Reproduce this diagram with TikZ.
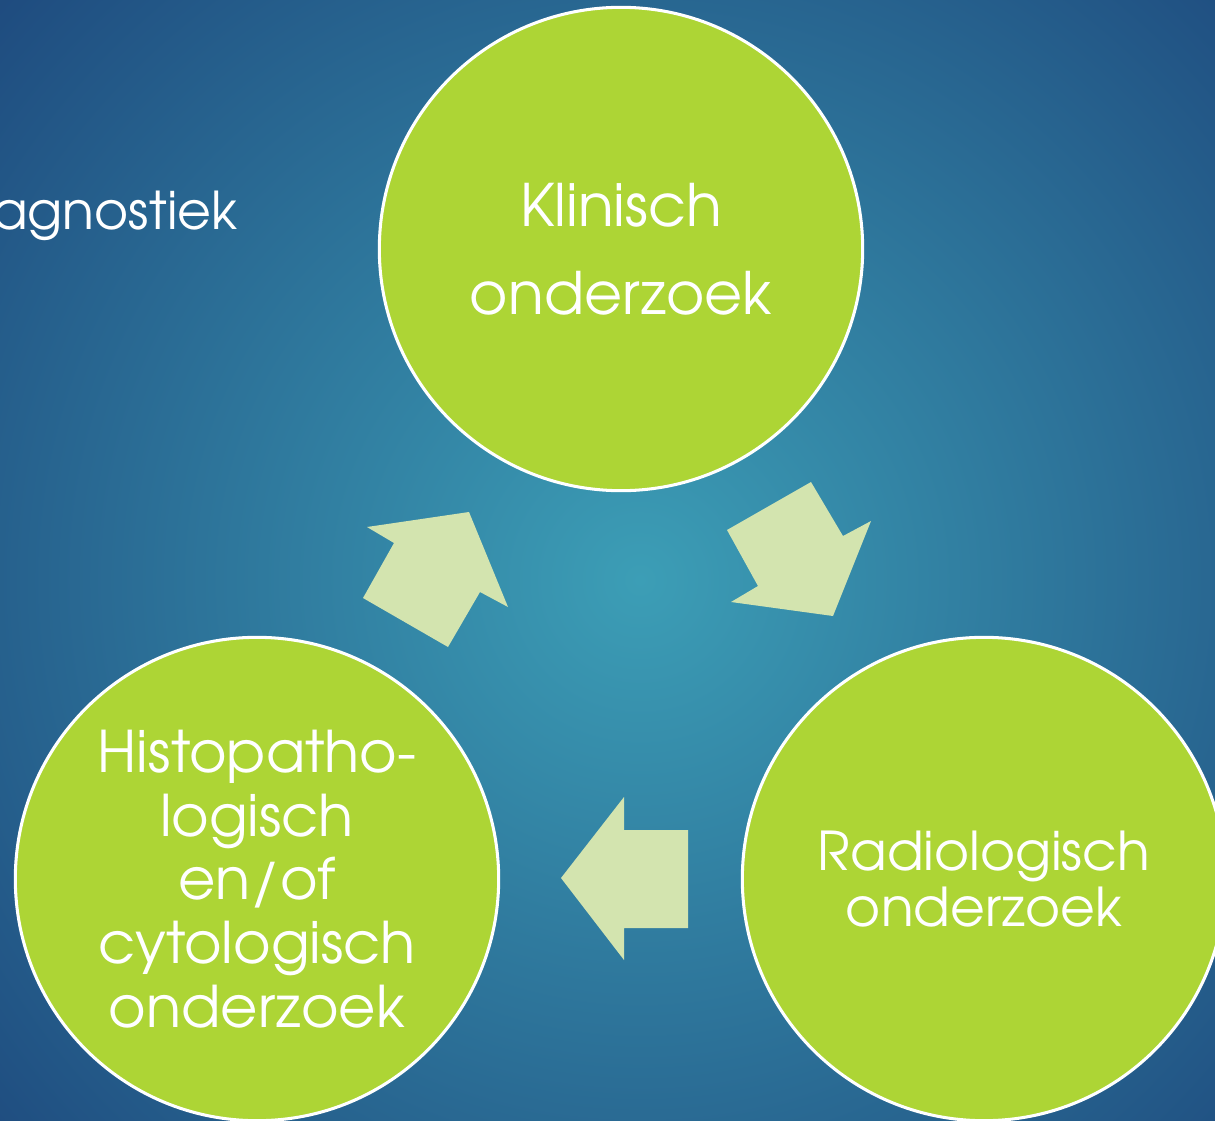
\documentclass[tikz,border=0pt]{standalone}
\usepackage{fontspec}
\setmainfont{TeX Gyre Adventor}
\definecolor{bgin}{RGB}{60,158,182}
\definecolor{bgout}{RGB}{30,74,126}
\definecolor{stagegreen}{RGB}{173,213,53}
\definecolor{arrowfill}{RGB}{211,228,175}
\begin{document}
\begin{tikzpicture}[x=0.03cm,y=-0.03cm,
  stage/.style={circle, draw=white, line width=2.6pt, fill=stagegreen,
    minimum size=14.5cm, inner sep=0pt, text=white, align=center},
  blockarrow/.style={fill=arrowfill}]
\useasboundingbox (0,0) rectangle (1215,1120);
\begin{scope}
\clip (0,0) rectangle (1215,1120);
\shade[inner color=bgin, outer color=bgout] (640,580) circle (880);
\end{scope}
\node[anchor=base east, text=white, font=\fontsize{44.5}{50}\selectfont] (diag) at (242,229) {agnostiek};
\node[stage, font=\fontsize{50}{75}\selectfont] (klin) at (621,249) {Klinisch\\onderzoek};
\node[stage, font=\fontsize{45.7}{48.5}\selectfont] (radio) at (984,879) {Radiologisch\\onderzoek};
\node[stage, font=\fontsize{49}{54.4}\selectfont] (histo) at (257,879) {Histopatho-\\logisch\\en/of\\cytologisch\\onderzoek};
\fill[blockarrow] (367,527) -- (469,512) -- (508,607) -- (480,592) -- (448,647) -- (363,598) -- (394,543) -- cycle;
\fill[blockarrow] (727,530) -- (811,482) -- (843,536) -- (871,521) -- (833,616) -- (731,602) -- (758,586) -- cycle;
\fill[blockarrow] (561,878) -- (624,797) -- (624,830) -- (688,830) -- (688,928) -- (624,928) -- (624,960) -- cycle;
\end{tikzpicture}
\end{document}
